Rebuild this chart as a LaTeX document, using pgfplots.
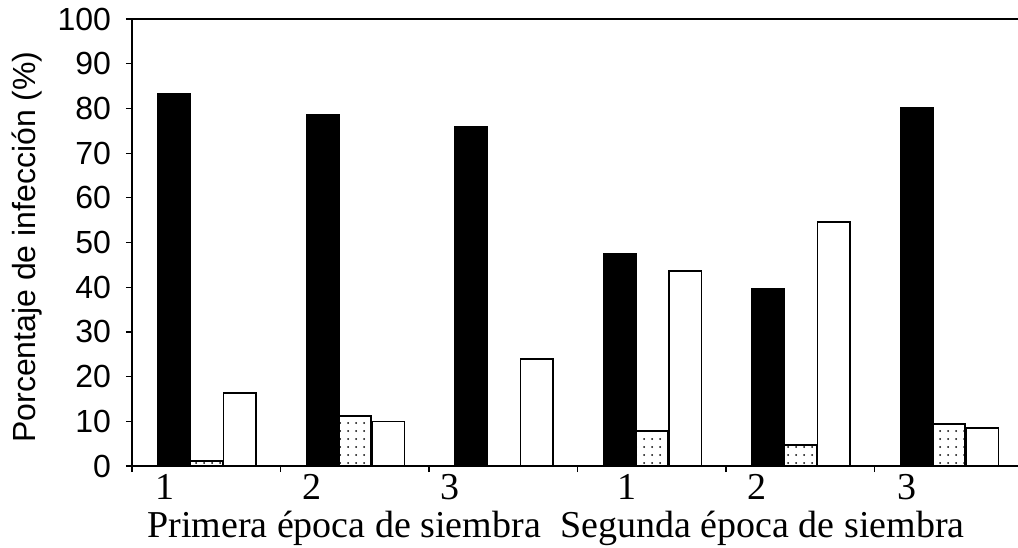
\documentclass[border=0pt]{standalone}
\usepackage{fontspec}
\setmainfont{Liberation Serif}
\newfontfamily\arialfont{Liberation Sans}
\usepackage{pgfplots}
\pgfplotsset{compat=1.18}
\usetikzlibrary{patterns,calc}
\pgfdeclarepatternformonly{sparsedots}{\pgfqpoint{-1pt}{-1pt}}{\pgfqpoint{5pt}{5pt}}{\pgfqpoint{4pt}{4pt}}{\pgfpathcircle{\pgfqpoint{2pt}{2pt}}{0.5pt}\pgfusepath{fill}}
\begin{document}
\begin{tikzpicture}
\begin{axis}[
  scale only axis, width=443pt, height=223.5pt,
  xmin=-0.5, xmax=5.466, ymin=0, ymax=100,
  axis x line*=bottom, axis y line*=left,
  axis line style={line width=0.8pt},
  tick align=outside, major tick length=3pt,
  tick style={line width=0.6pt, black},
  xtick={-0.5,0.5,1.5,2.5,3.5,4.5}, xticklabels={},
  ytick={0,10,...,100},
  /pgf/number format/assume math mode=true,
  yticklabel style={font=\arialfont\fontsize{16}{16}\selectfont, xshift=-4pt},
  clip=false,
]
\addplot[ybar, fill=black, draw=black, line width=0.7pt, bar width=0.22, bar shift=-0.215]
  coordinates {(0,83.4) (1,78.7) (2,75.8) (3,47.6) (4,39.6) (5,80.1)};
\addplot[ybar, pattern=sparsedots, draw=black, line width=1pt, bar width=0.22, bar shift=0]
  coordinates {(0,1.1) (1,11.2) (3,7.8) (4,4.7) (5,9.4)};
\addplot[ybar, fill=white, draw=black, line width=0.75pt, bar width=0.22, bar shift=0.225]
  coordinates {(0,16.3) (1,10.0) (2,23.9) (3,43.6) (4,54.6) (5,8.5)};
\draw[line width=0.8pt] (rel axis cs:0,1) -- (rel axis cs:1,1);
\node[font=\fontsize{19}{19}\selectfont, anchor=base, yshift=-16.5pt] at (axis cs:-0.278,0) {1};
\node[font=\fontsize{19}{19}\selectfont, anchor=base, yshift=-16.5pt] at (axis cs:0.712,0) {2};
\node[font=\fontsize{19}{19}\selectfont, anchor=base, yshift=-16.5pt] at (axis cs:1.641,0) {3};
\node[font=\fontsize{19}{19}\selectfont, anchor=base, yshift=-16.5pt] at (axis cs:2.833,0) {1};
\node[font=\fontsize{19}{19}\selectfont, anchor=base, yshift=-16.5pt] at (axis cs:3.709,0) {2};
\node[font=\fontsize{19}{19}\selectfont, anchor=base, yshift=-16.5pt] at (axis cs:4.719,0) {3};
\node[font=\fontsize{19}{19}\selectfont, anchor=base, yshift=-35.5pt] at (axis cs:0.928,0) {Primera época de siembra};
\node[font=\fontsize{19}{19}\selectfont, anchor=base, yshift=-35.5pt] at (axis cs:3.746,0) {Segunda época de siembra};
\coordinate (ll) at (rel axis cs:0,0);
\coordinate (ur) at (rel axis cs:1,1);
\coordinate (ylab) at (rel axis cs:0,0.49);
\end{axis}
\node[rotate=90, anchor=center, font=\arialfont\fontsize{16}{16}\selectfont] at ($(ylab)+(-52.5pt,0)$) {Porcentaje de infección (\%)};
\pgfresetboundingbox
\path[use as bounding box] ($(ll)+(-66pt,-40.5pt)$) rectangle ($(ur)+(0pt,9.5pt)$);
\end{tikzpicture}
\end{document}
